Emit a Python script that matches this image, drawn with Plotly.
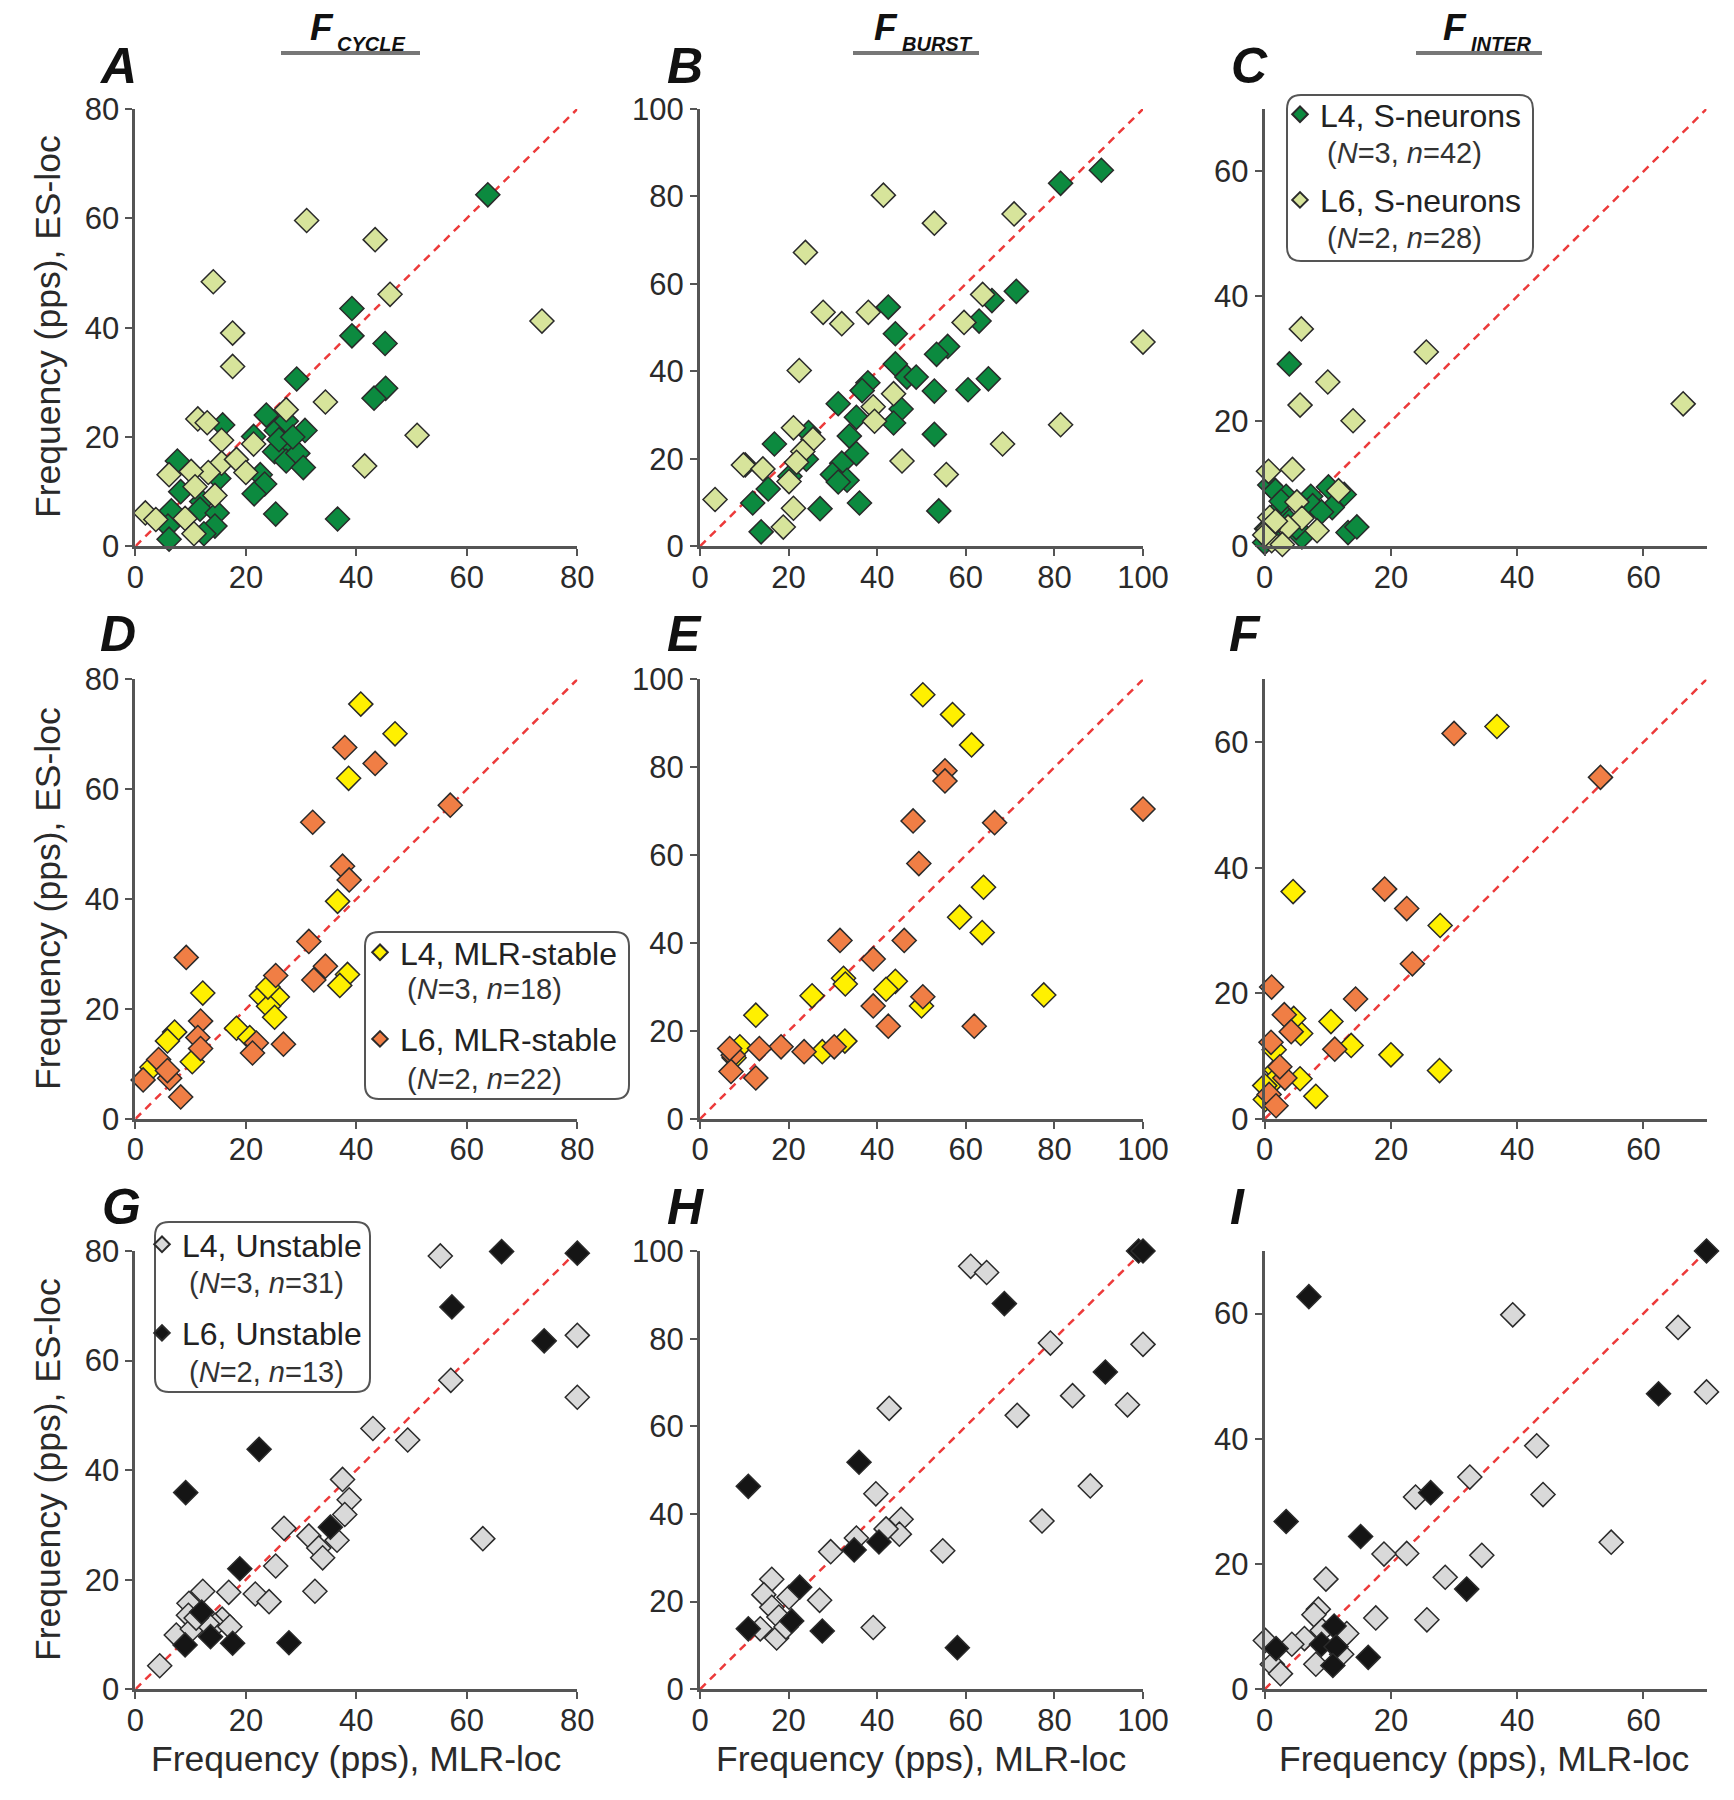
import plotly.graph_objects as go

# reference canvas is 1734x1800; the figure sits inside the page body margin
W, H = 1734, 1800
OX, OY = 8, 8
FW, FH = 1714, 1776

# ---- panel A (F_cycle, S-neurons)
a_l4_x = [63.8, 39.2, 39.2, 45.2, 45.3, 43.2, 29.2, 36.6, 25.4, 23.7, 25.5, 30.7, 27.6, 25.2, 27.3,
          29.4, 30.4, 21.4, 22.6, 23.4, 21.5, 15.8, 15.1, 7.6, 8.2, 12.0, 11.7, 14.8, 14.4, 12.4,
          6.5, 5.9, 6.1, 27.3, 26.0, 28.5]
a_l4_y = [64.3, 43.5, 38.5, 37.1, 28.9, 27.1, 30.6, 5.0, 5.9, 24.0, 21.2, 21.2, 18.7, 17.3, 15.6,
          17.0, 14.4, 20.1, 13.1, 11.4, 9.6, 22.2, 12.4, 15.6, 10.0, 8.2, 6.8, 6.1, 3.7, 2.3,
          6.5, 3.7, 1.3, 22.9, 19.5, 20.0]
a_l6_x = [31.0, 43.4, 14.1, 46.1, 73.6, 17.6, 17.6, 34.4, 51.0, 41.5, 27.3, 11.3, 13.0, 15.6,
          21.4, 15.6, 18.3, 20.0, 13.2, 10.1, 6.1, 10.8, 14.4, 9.0, 1.8, 3.7, 10.6]
a_l6_y = [59.6, 56.1, 48.4, 46.1, 41.2, 39.0, 32.9, 26.4, 20.3, 14.7, 25.0, 23.3, 22.6, 19.4,
          18.7, 15.2, 15.9, 13.5, 13.5, 13.7, 13.1, 10.9, 9.3, 5.1, 6.1, 4.9, 2.3]

# ---- panel B (F_burst, S-neurons)
b_l4_x = [90.6, 81.4, 71.4, 65.9, 63.0, 55.9, 53.4, 65.1, 60.5, 52.9, 52.9, 53.9, 42.5, 44.1,
          44.1, 46.7, 48.8, 37.9, 36.6, 31.2, 45.4, 43.7, 35.3, 33.7, 35.3, 32.0, 29.9, 33.2,
          31.2, 36.0, 27.1, 24.0, 24.5, 16.8, 15.4, 11.9, 13.8, 10.2, 20.3]
b_l4_y = [86.0, 83.0, 58.3, 56.2, 51.5, 45.7, 43.9, 38.3, 35.8, 35.5, 25.6, 8.1, 54.7, 48.6,
          41.7, 38.7, 38.7, 37.4, 35.6, 32.6, 31.4, 28.2, 29.5, 25.2, 21.2, 19.0, 16.4, 15.1,
          14.7, 9.9, 8.6, 19.9, 26.0, 23.4, 13.1, 9.9, 3.3, 18.6, 16.0]
b_l6_x = [41.4, 70.9, 52.9, 23.8, 63.8, 27.8, 38.0, 32.0, 59.6, 100.0, 22.4, 43.7, 39.1, 39.4,
          21.1, 25.5, 23.2, 21.8, 9.8, 14.2, 20.1, 81.4, 68.3, 45.6, 55.6, 3.4, 21.1, 18.8]
b_l6_y = [80.3, 76.0, 73.9, 67.2, 57.6, 53.5, 53.5, 50.9, 51.2, 46.7, 40.2, 34.9, 31.9, 28.6,
          27.1, 24.5, 21.7, 19.2, 18.6, 17.7, 14.8, 27.8, 23.4, 19.5, 16.4, 10.7, 8.7, 4.4]

# ---- panel C (F_inter, S-neurons)
c_l4_x = [3.9, 0.8, 1.7, 3.4, 7.3, 10.1, 10.7, 7.6, 12.6, 13.2, 14.6, 5.9, 2.2, 0.0, 1.1, 3.9,
          0.3, 2.6, 5.0, 9.0]
c_l4_y = [29.2, 9.8, 8.9, 8.0, 8.0, 9.5, 6.2, 6.5, 8.3, 2.2, 3.1, 1.5, 5.8, 0.6, 1.5, 4.0,
          2.8, 7.2, 3.0, 5.5]
c_l6_x = [5.8, 25.6, 10.0, 5.6, 14.0, 66.3, 0.6, 4.4, 11.7, 5.1, 5.9, 8.3, 3.7, 0.8, 0.6, 1.1,
          2.8, 0.0, 1.7]
c_l6_y = [34.8, 31.1, 26.3, 22.6, 20.1, 22.8, 12.0, 12.3, 8.9, 7.1, 4.5, 2.5, 3.1, 4.6, 2.8, 0.9,
          0.3, 1.8, 4.0]

# ---- panel D (F_cycle, MLR-stable)
d_l4_x = [40.8, 47.0, 38.6, 36.6, 38.4, 37.0, 12.2, 22.8, 25.7, 24.1, 25.2, 18.3, 20.7, 7.1,
          5.8, 10.3, 3.0, 24.0]
d_l4_y = [75.5, 70.1, 62.0, 39.6, 26.3, 24.3, 22.9, 22.4, 22.2, 20.5, 18.5, 16.5, 14.8, 15.8,
          14.2, 10.4, 9.4, 24.0]
d_l6_x = [57.0, 37.9, 43.4, 32.1, 37.5, 38.7, 31.4, 34.4, 32.3, 9.2, 25.4, 11.8, 11.3, 11.8,
          26.8, 21.9, 21.2, 4.2, 1.4, 6.2, 8.2, 5.8]
d_l6_y = [57.1, 67.6, 64.7, 54.0, 46.0, 43.5, 32.3, 27.8, 25.3, 29.4, 26.1, 17.8, 14.8, 12.8,
          13.6, 13.8, 12.0, 10.8, 7.1, 7.4, 4.0, 8.8]

# ---- panel E (F_burst, MLR-stable)
e_l4_x = [50.3, 57.0, 61.3, 64.0, 58.6, 63.7, 77.6, 32.4, 32.8, 44.1, 42.0, 25.3, 50.0, 12.6,
          27.6, 32.7, 9.0, 7.7]
e_l4_y = [96.5, 92.0, 85.1, 52.7, 45.9, 42.4, 28.2, 32.0, 30.7, 31.3, 29.5, 28.0, 25.7, 23.6,
          15.3, 17.7, 16.4, 13.9]
e_l6_x = [100.0, 55.3, 55.3, 48.1, 66.5, 49.4, 31.6, 46.1, 39.1, 39.1, 42.5, 61.9, 50.3, 30.3,
          23.5, 18.3, 13.4, 12.6, 7.5, 7.0, 6.7]
e_l6_y = [70.5, 79.2, 76.9, 67.8, 67.4, 58.1, 40.6, 40.6, 36.4, 25.7, 21.1, 21.1, 27.8, 16.4,
          15.3, 16.4, 16.0, 9.3, 14.5, 10.8, 16.0]

# ---- panel F (F_inter, MLR-stable)
f_l4_x = [32.0, 36.8, 4.5, 27.8, 10.5, 13.7, 20.0, 27.7, 5.6, 8.1, 1.8, 1.3, 0.0, 0.1, 5.7,
          4.6, 1.5]
f_l4_y = [70.2, 62.5, 36.2, 30.8, 15.5, 11.7, 10.2, 7.7, 6.4, 3.6, 7.8, 5.9, 5.3, 3.1, 13.6,
          16.0, 11.0]
f_l6_x = [30.0, 53.2, 19.0, 22.5, 23.4, 14.4, 11.1, 1.1, 3.1, 4.2, 1.0, 3.2, 2.4, 0.7, 1.8]
f_l6_y = [61.4, 54.4, 36.6, 33.5, 24.7, 19.1, 11.1, 21.0, 16.6, 13.9, 12.2, 6.5, 8.3, 3.9, 2.1]

# ---- panel G (F_cycle, unstable)
g_l4_x = [55.2, 80.0, 80.0, 57.1, 43.0, 49.3, 62.9, 37.5, 38.7, 37.9, 36.5, 31.4, 33.2, 33.9,
          32.5, 26.9, 25.4, 21.7, 24.2, 16.9, 12.2, 9.7, 9.6, 15.7, 14.4, 7.4, 10.3, 4.4, 17.1,
          13.0, 11.0]
g_l4_y = [79.1, 64.6, 53.3, 56.4, 47.6, 45.5, 27.5, 38.3, 34.6, 31.9, 27.2, 28.0, 25.8, 24.0,
          17.9, 29.4, 22.5, 17.4, 16.0, 17.7, 17.9, 15.7, 13.5, 12.8, 11.7, 9.9, 11.0, 4.3, 11.4,
          12.0, 13.0]
g_l6_x = [66.3, 80.0, 57.3, 74.0, 22.4, 9.1, 35.3, 18.9, 12.0, 13.6, 9.0, 17.6, 27.8]
g_l6_y = [79.9, 79.6, 69.8, 63.6, 43.8, 35.9, 29.6, 22.0, 14.1, 9.6, 8.1, 8.4, 8.5]

# ---- panel H (F_burst, unstable)
h_l4_x = [61.1, 64.7, 79.1, 100.0, 84.1, 96.5, 71.6, 42.7, 88.1, 77.2, 39.7, 45.4, 45.0, 42.0,
          35.3, 54.8, 29.5, 27.0, 39.1, 16.2, 14.4, 20.1, 16.2, 17.8, 17.3, 13.6, 19.4]
h_l4_y = [96.5, 95.1, 79.0, 78.7, 67.0, 64.9, 62.5, 64.1, 46.4, 38.4, 44.6, 38.8, 35.4, 36.6,
          34.5, 31.6, 31.4, 20.3, 14.1, 25.1, 21.6, 21.0, 18.7, 16.5, 11.7, 13.8, 14.2]
h_l6_x = [99.0, 100.0, 68.7, 91.5, 35.9, 10.9, 34.8, 40.4, 22.5, 20.7, 10.9, 27.6, 58.1]
h_l6_y = [100.0, 100.0, 88.0, 72.4, 51.8, 46.3, 31.8, 33.6, 23.3, 15.6, 13.8, 13.3, 9.5]

# ---- panel I (F_inter, unstable)
i_l4_x = [39.3, 65.5, 70.0, 43.1, 44.1, 32.5, 23.9, 54.9, 34.4, 22.5, 18.9, 28.6, 9.7, 17.6,
          25.7, 8.5, 7.8, 13.0, 6.3, 4.3, 0.1, 1.2, 2.5, 8.1, 12.2, 9.1]
i_l4_y = [59.8, 57.8, 47.5, 38.9, 31.1, 33.9, 30.7, 23.5, 21.4, 21.7, 21.6, 17.9, 17.6, 11.4,
          11.1, 12.8, 11.9, 8.9, 8.1, 7.2, 7.8, 4.0, 2.5, 4.0, 5.6, 9.4]
i_l6_x = [70.0, 7.0, 62.4, 3.4, 15.2, 26.3, 32.0, 16.4, 1.8, 9.0, 11.0, 11.3, 10.8]
i_l6_y = [70.0, 62.7, 47.2, 26.8, 24.4, 31.4, 16.0, 5.1, 6.5, 7.2, 10.1, 6.8, 3.8]

panel_letters = ["A", "B", "C", "D", "E", "F", "G", "H", "I"]
col_headers = ["CYCLE", "BURST", "INTER"]
col_max = [80, 100, 70]

row_colors = [("#0c8a3f", "#d7e49b"), ("#fff000", "#f07e45"), ("#d9d9d9", "#151515")]
row_names = [("L4, S-neurons", "L6, S-neurons"),
             ("L4, MLR-stable", "L6, MLR-stable"),
             ("L4, Unstable", "L6, Unstable")]
row_counts = [("(<i>N</i>=3, <i>n</i>=42)", "(<i>N</i>=2, <i>n</i>=28)"),
              ("(<i>N</i>=3, <i>n</i>=18)", "(<i>N</i>=2, <i>n</i>=22)"),
              ("(<i>N</i>=3, <i>n</i>=31)", "(<i>N</i>=2, <i>n</i>=13)")]

panels = [
    (a_l4_x, a_l4_y, a_l6_x, a_l6_y), (b_l4_x, b_l4_y, b_l6_x, b_l6_y), (c_l4_x, c_l4_y, c_l6_x, c_l6_y),
    (d_l4_x, d_l4_y, d_l6_x, d_l6_y), (e_l4_x, e_l4_y, e_l6_x, e_l6_y), (f_l4_x, f_l4_y, f_l6_x, f_l6_y),
    (g_l4_x, g_l4_y, g_l6_x, g_l6_y), (h_l4_x, h_l4_y, h_l6_x, h_l6_y), (i_l4_x, i_l4_y, i_l6_x, i_l6_y),
]

# legend lives in C (row 1), D (row 2), G (row 3)
legend_panel = {2: "legend", 3: "legend2", 6: "legend3"}

FONT = "Liberation Sans, Arial, sans-serif"
col_px = [(135.4, 577.3), (700.0, 1143.0), (1264.7, 1706.5)]
row_px = [(109.0, 546.3), (679.4, 1118.9), (1251.0, 1689.3)]


def px(x):
    return (x - OX) / FW


def py(y):
    return 1 - (y - OY) / FH


fig = go.Figure()
layout = {}

for k, (x4, y4, x6, y6) in enumerate(panels):
    r, c = divmod(k, 3)
    n = k + 1
    xa = "x" if n == 1 else f"x{n}"
    ya = "y" if n == 1 else f"y{n}"
    top = col_max[c]

    fig.add_trace(go.Scatter(x=[0, top], y=[0, top], mode="lines", xaxis=xa, yaxis=ya,
                             line=dict(color="#ec3a3a", width=2.5, dash="8px,6px"),
                             showlegend=False, hoverinfo="skip", cliponaxis=False))
    leg = legend_panel.get(k)
    for j, (xs, ys) in enumerate([(x4, y4), (x6, y6)]):
        fig.add_trace(go.Scatter(
            x=xs, y=ys, mode="markers", xaxis=xa, yaxis=ya, name=row_names[r][j],
            legendgroup=f"g{k}_{j}",
            marker=dict(symbol="diamond", size=18.5, color=row_colors[r][j],
                        line=dict(color="#2a2a2a", width=1.5)),
            showlegend=leg is not None, legend=leg if leg else "legend", cliponaxis=False))

    axis_common = dict(showgrid=False, zeroline=False, showline=True, linecolor="#555555",
                       linewidth=3, ticks="outside", ticklen=7, tickwidth=2, tickcolor="#555555",
                       tickfont=dict(family=FONT, size=31, color="#2a2a2a"),
                       range=[0, top], dtick=20, tick0=0, fixedrange=True, automargin=False)
    x0, x1 = col_px[c]
    yt, yb = row_px[r]
    layout["xaxis" if n == 1 else f"xaxis{n}"] = dict(axis_common, domain=[px(x0), px(x1)],
                                                     anchor=ya, ticklabelstandoff=-6)
    layout["yaxis" if n == 1 else f"yaxis{n}"] = dict(axis_common, domain=[py(yb), py(yt)],
                                                     anchor=xa)

fig.update_layout(**layout)

annotations = []
letter_pos = [(118, 66), (685, 66), (1249, 66), (118, 634), (684, 634), (1245, 634),
              (121, 1207), (685, 1207), (1237, 1207)]
for lt, (lx, ly) in zip(panel_letters, letter_pos):
    annotations.append(dict(text=f"<b><i>{lt}</i></b>", x=px(lx), y=py(ly), xref="paper",
                            yref="paper", showarrow=False, xanchor="center", yanchor="middle",
                            font=dict(family=FONT, size=50, color="#111111")))

# column headers: F with subscript and a grey bar under it
header_pos = [(307.5, 335, 281, 420), (872, 900, 853, 979), (1441, 1469, 1416, 1542)]
shapes = []
for name, (fx, sx, bx0, bx1) in zip(col_headers, header_pos):
    annotations.append(dict(text="<b><i>F</i></b>", x=px(fx), y=py(28), xref="paper", yref="paper",
                            showarrow=False, xanchor="left", yanchor="middle",
                            font=dict(family=FONT, size=37, color="#111111")))
    annotations.append(dict(text=f"<b><i>{name}</i></b>", x=px(sx), y=py(44), xref="paper",
                            yref="paper", showarrow=False, xanchor="left", yanchor="middle",
                            font=dict(family=FONT, size=20, color="#111111")))
    shapes.append(dict(type="line", xref="paper", yref="paper", x0=px(bx0), x1=px(bx1),
                       y0=py(53), y1=py(53), line=dict(color="#777777", width=4)))

for yc in [327, 899, 1470]:
    annotations.append(dict(text="Frequency (pps), ES-loc", x=px(48), y=py(yc), xref="paper",
                            yref="paper", showarrow=False, textangle=-90, xanchor="center",
                            yanchor="middle", font=dict(family=FONT, size=35.5, color="#2a2a2a")))
for xc in [356, 921, 1484]:
    annotations.append(dict(text="Frequency (pps), MLR-loc", x=px(xc), y=py(1759), xref="paper",
                            yref="paper", showarrow=False, xanchor="center", yanchor="middle",
                            font=dict(family=FONT, size=35.5, color="#2a2a2a")))


def rounded_box(x0, y0, x1, y1, rad):
    rx, ry = rad / FW, rad / FH
    a, b, c, d = px(x0), px(x1), py(y0), py(y1)
    return (f"M {a + rx},{c} L {b - rx},{c} Q {b},{c} {b},{c - ry} L {b},{d + ry} "
            f"Q {b},{d} {b - rx},{d} L {a + rx},{d} Q {a},{d} {a},{d + ry} L {a},{c - ry} "
            f"Q {a},{c} {a + rx},{c} Z")


# box corners, text start x, and centre y of the four text lines
legend_boxes = {
    "legend": ((1287, 95, 1533, 261), 1320, [116, 153, 202, 238], 0),
    "legend2": ((365, 932, 629, 1099), 400, [954, 989, 1041, 1079], 1),
    "legend3": ((155, 1222, 370, 1392), 182, [1246, 1283, 1335, 1372], 2),
}
legend_layout = {}
for key, ((bx0, by0, bx1, by1), tx, lines, r) in legend_boxes.items():
    shapes.append(dict(type="path", path=rounded_box(bx0, by0, bx1, by1, 14), xref="paper",
                       yref="paper", fillcolor="white", line=dict(color="#555555", width=2),
                       layer="above"))
    legend_layout[key] = dict(x=px(tx - 40), y=py(lines[0] - 29), xanchor="left", yanchor="top",
                              bgcolor="rgba(0,0,0,0)", borderwidth=0, itemsizing="constant",
                              font=dict(family=FONT, size=32, color="#222222"),
                              tracegroupgap=lines[2] - lines[0] - 45, traceorder="grouped",
                              itemclick=False, itemdoubleclick=False)
    for j, ly in enumerate([lines[1], lines[3]]):
        annotations.append(dict(text=row_counts[r][j], x=px(tx + 5), y=py(ly), xref="paper",
                                yref="paper", showarrow=False, xanchor="left", yanchor="middle",
                                font=dict(family=FONT, size=29, color="#333333")))

fig.update_layout(
    width=FW, height=FH, margin=dict(l=0, r=0, t=0, b=0, pad=0, autoexpand=False),
    paper_bgcolor="white", plot_bgcolor="white",
    annotations=annotations, shapes=shapes,
    font=dict(family=FONT, color="#222222"),
    **legend_layout,
)

fig.write_html("out.html", config={"displayModeBar": False})
